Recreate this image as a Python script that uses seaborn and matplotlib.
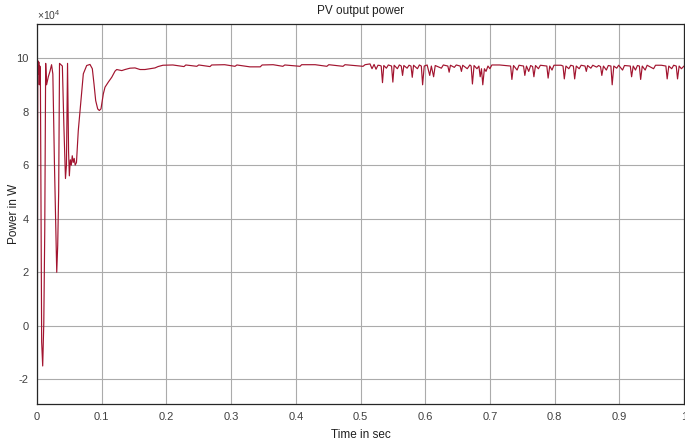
import matplotlib
matplotlib.use("Agg")
import matplotlib.pyplot as plt
import numpy as np
import pandas as pd
import seaborn as sns

# ---------------- data ----------------
time_s = [
    0.0000, 0.0006, 0.0012, 0.0020, 0.0028, 0.0036, 0.0044, 0.0052, 0.0072, 0.0088,
    0.0105, 0.0120, 0.0134, 0.0148, 0.0175, 0.0200, 0.0225, 0.0245, 0.0270, 0.0290,
    0.0305, 0.0320, 0.0335, 0.0348, 0.0370, 0.0392, 0.0415, 0.0440, 0.0455, 0.0472,
    0.0488, 0.0500, 0.0515, 0.0530, 0.0545, 0.0560, 0.0575, 0.0590, 0.0610, 0.0638,
    0.0680, 0.0716, 0.0768, 0.0819, 0.0855, 0.0881, 0.0907, 0.0938, 0.0963, 0.0989,
    0.1025, 0.1051, 0.1102, 0.1155, 0.1206, 0.1232, 0.1310, 0.1360, 0.1437, 0.1515,
    0.1592, 0.1669, 0.1747, 0.1824, 0.1870, 0.1947, 0.2100, 0.2272, 0.2300, 0.2470,
    0.2500, 0.2674, 0.2700, 0.2900, 0.3060, 0.3090, 0.3290, 0.3450, 0.3480, 0.3650,
    0.3800, 0.3830, 0.4065, 0.4090, 0.4300, 0.4480, 0.4510, 0.4730, 0.4760, 0.5040,
    0.5070, 0.5147, 0.5178, 0.5210, 0.5240, 0.5270,
    0.5300, 0.5320, 0.5340, 0.5360, 0.5400, 0.5430, 0.5480, 0.5500, 0.5520, 0.5570,
    0.5600, 0.5630, 0.5650, 0.5670, 0.5720, 0.5750, 0.5780, 0.5800, 0.5820, 0.5880,
    0.5910, 0.5940, 0.5960, 0.5985, 0.6030, 0.6070, 0.6095, 0.6130, 0.6155, 0.6250,
    0.6280, 0.6350, 0.6370, 0.6390, 0.6450, 0.6480, 0.6540, 0.6560, 0.6580, 0.6650,
    0.6690, 0.6710, 0.6730, 0.6755, 0.6800, 0.6830, 0.6850, 0.6870, 0.6890, 0.6915,
    0.6940, 0.6970, 0.7000, 0.7030, 0.7150, 0.7320, 0.7340, 0.7365, 0.7420, 0.7450,
    0.7520, 0.7540, 0.7565, 0.7600, 0.7630, 0.7660, 0.7680, 0.7705, 0.7750, 0.7780,
    0.7880, 0.7900, 0.7925, 0.7960, 0.7990, 0.8100, 0.8130, 0.8150, 0.8175, 0.8220,
    0.8250, 0.8290, 0.8310, 0.8335, 0.8380, 0.8410, 0.8470, 0.8490, 0.8510, 0.8560,
    0.8590, 0.8650, 0.8680, 0.8710, 0.8730, 0.8755, 0.8800, 0.8830, 0.8870, 0.8890,
    0.8915, 0.8960, 0.8990, 0.9050, 0.9080, 0.9170, 0.9190, 0.9215, 0.9250, 0.9280,
    0.9310, 0.9330, 0.9355, 0.9400, 0.9430, 0.9530, 0.9560, 0.9650, 0.9720, 0.9740,
    0.9765, 0.9810, 0.9840, 0.9880, 0.9900, 0.9925, 0.9960, 1.0000,
]

power_e4 = [
    9.80, 0.20, 9.90, 9.40, 9.85, 9.00, 9.70, 9.50, -0.60, -1.50,
    0.10, 3.60, 9.80, 9.00, 9.30, 9.50, 9.75, 9.40, 6.00, 3.80,
    2.00, 3.00, 5.00, 9.80, 9.75, 9.70, 7.50, 5.50, 6.00, 9.80,
    6.50, 5.60, 6.20, 6.00, 6.35, 6.10, 6.25, 6.00, 6.10, 7.29,
    8.41, 9.41, 9.72, 9.76, 9.60, 9.03, 8.41, 8.10, 8.04, 8.10,
    8.66, 8.91, 9.10, 9.28, 9.51, 9.57, 9.53, 9.57, 9.62, 9.63,
    9.57, 9.57, 9.60, 9.63, 9.68, 9.73, 9.74, 9.68, 9.74, 9.69,
    9.74, 9.68, 9.74, 9.75, 9.69, 9.74, 9.67, 9.67, 9.74, 9.75,
    9.69, 9.74, 9.69, 9.75, 9.75, 9.69, 9.75, 9.69, 9.75, 9.69,
    9.75, 9.78, 9.60, 9.76, 9.58, 9.73,
    9.72, 9.70, 9.08, 9.72, 9.62, 9.74, 9.70, 9.10, 9.73, 9.60,
    9.74, 9.70, 9.35, 9.72, 9.62, 9.73, 9.70, 9.28, 9.73, 9.60,
    9.74, 9.70, 9.00, 9.70, 9.74, 9.35, 9.70, 9.30, 9.72, 9.62,
    9.74, 9.70, 9.47, 9.73, 9.65, 9.74, 9.70, 9.50, 9.73, 9.60,
    9.74, 9.70, 9.03, 9.72, 9.60, 9.70, 9.30, 9.60, 9.00, 9.60,
    9.50, 9.70, 9.60, 9.74, 9.74, 9.70, 9.20, 9.72, 9.55, 9.73,
    9.70, 9.35, 9.70, 9.50, 9.72, 9.68, 9.30, 9.72, 9.60, 9.73,
    9.70, 9.25, 9.70, 9.55, 9.73, 9.73, 9.70, 9.22, 9.70, 9.60,
    9.73, 9.70, 9.22, 9.70, 9.60, 9.73, 9.70, 9.50, 9.72, 9.62,
    9.73, 9.66, 9.72, 9.68, 9.35, 9.70, 9.55, 9.72, 9.70, 9.00,
    9.70, 9.62, 9.73, 9.55, 9.72, 9.70, 9.30, 9.70, 9.55, 9.72,
    9.70, 9.20, 9.70, 9.55, 9.73, 9.60, 9.73, 9.73, 9.70, 9.22,
    9.70, 9.60, 9.73, 9.70, 9.22, 9.70, 9.60, 9.70,
]

x_ticks = [0, 0.1, 0.2, 0.3, 0.4, 0.5, 0.6, 0.7, 0.8, 0.9, 1.0]
x_tick_labels = ["0", "0.1", "0.2", "0.3", "0.4", "0.5", "0.6", "0.7", "0.8", "0.9", "1"]
y_ticks = [-2, 0, 2, 4, 6, 8, 10]
y_tick_labels = ["-2", "0", "2", "4", "6", "8", "10"]

df = pd.DataFrame({"Time": time_s, "Power": power_e4})

# ---------------- figure ----------------
sns.set_theme(style="white")
plt.rcParams["font.family"] = ["Liberation Sans", "DejaVu Sans"]
plt.rcParams["mathtext.fontset"] = "custom"
plt.rcParams["mathtext.rm"] = "Liberation Sans"
plt.rcParams["mathtext.it"] = "Liberation Sans"

W, H = 685, 442
fig = plt.figure(figsize=(W / 100, H / 100), dpi=100)
fig.patch.set_facecolor("white")
left, right, top, bottom = 37, 684, 24, 404
ax = fig.add_axes([left / W, 1 - bottom / H, (right - left) / W, (bottom - top) / H])

sns.lineplot(data=df, x="Time", y="Power", ax=ax, color="#a2142f",
             linewidth=0.85, estimator=None, sort=False)

ax.set_xlim(0, 1)
ax.set_ylim(-2.92, 11.27)
ax.set_xticks(x_ticks)
ax.set_xticklabels(x_tick_labels)
ax.set_yticks(y_ticks)
ax.set_yticklabels(y_tick_labels)

ax.grid(True, color="#ababab", linewidth=0.8)
ax.set_axisbelow(True)
ax.tick_params(direction="in", length=4, width=0.7, colors="#262626",
               labelsize=8, labelcolor="#404040", pad=6,
               top=False, right=False)
for s in ax.spines.values():
    s.set_visible(True)
    s.set_color("#262626")
    s.set_linewidth(0.9)

ax.set_title("PV output power", fontsize=8.5, color="#202020", pad=7)
ax.set_xlabel("Time in sec", fontsize=8.5, color="#202020", labelpad=5)
ax.set_ylabel("Power in W", fontsize=8.5, color="#202020")
ax.yaxis.set_label_coords(-0.026, 0.5)
ax.text(0.0, 1.006, r"$\times10^{4}$", transform=ax.transAxes, ha="left",
        va="bottom", fontsize=7.5, color="#404040")

fig.savefig("out.png", dpi=100, facecolor="white")
